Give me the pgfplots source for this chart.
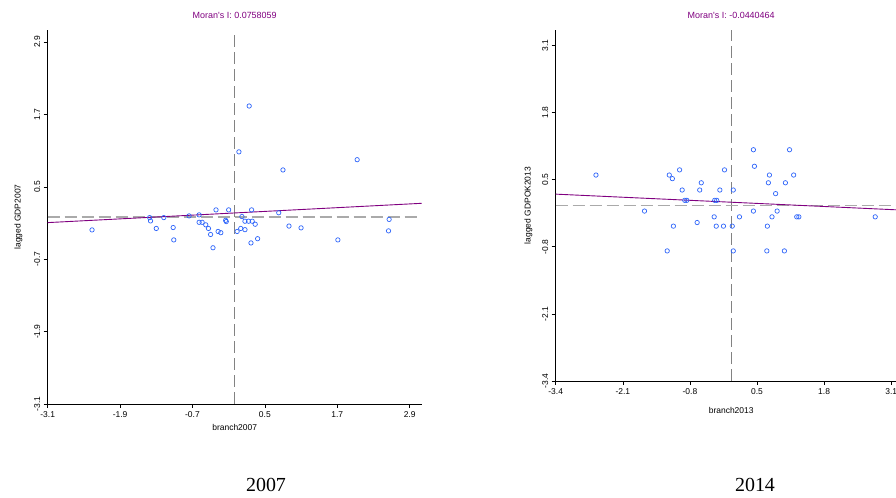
\documentclass[border=0pt]{standalone}
\usepackage{fontspec}
\setmainfont{Liberation Sans}
\newfontfamily\capfont{Liberation Serif}
\usepackage{pgfplots}
\pgfplotsset{compat=1.18}
\definecolor{moranpurple}{RGB}{128,0,128}
\definecolor{ptblue}{RGB}{45,100,250}
\definecolor{refgray}{RGB}{130,130,130}
\definecolor{refgraylight}{RGB}{170,170,170}

\pgfplotsset{moran/.style={
  scale only axis, enlargelimits=false,
  axis x line*=bottom, axis y line*=left,
  axis line style={black, line width=0.8bp},
  tick style={black, line width=0.6bp}, tick align=outside, major tick length=4bp,
  ticklabel style={font=\fontsize{8.5}{10}\selectfont},
  yticklabel style={rotate=90, anchor=south},
  label style={font=\fontsize{8.5}{10}\selectfont},
  title style={font=\fontsize{9}{10}\selectfont, text=moranpurple, yshift=2bp},
  /pgf/number format/assume math mode=true,
  pts/.style={only marks, mark=o, mark size=2.2bp, mark options={ptblue, line width=0.7bp}},
  fit/.style={moranpurple, line width=0.9bp},
  refline/.style={refgray, line width=1.1bp, dash pattern=on 12bp off 5bp},
}}

\pgfplotstableread{
x y
-2.365 -0.214
-1.41 -0.01
-1.395 -0.065
-1.30 -0.19
-1.175 -0.01
-1.02 -0.175
-1.01 -0.38
-0.756 0.018
-0.59 0.035
-0.59 -0.088
-0.54 -0.088
-0.48 -0.13
-0.435 -0.19
-0.40 -0.29
-0.36 -0.51
-0.31 0.118
-0.275 -0.24
-0.23 -0.26
-0.15 -0.055
-0.14 -0.076
-0.10 0.118
0.04 -0.24
0.07 1.08
0.24 1.84
0.12 0.007
0.17 -0.07
0.10 -0.19
0.17 -0.21
0.23 -0.07
0.28 0.118
0.29 -0.07
0.34 -0.12
0.27 -0.43
0.38 -0.36
0.73 0.07
0.80 0.78
0.90 -0.15
1.10 -0.18
1.71 -0.38
2.03 0.95
2.55 -0.23
2.56 -0.04
}\dataA

\pgfplotstableread{
x y
-2.62 0.59
-1.68 -0.108
-1.24 -0.88
-1.20 0.59
-1.14 0.52
-1.12 -0.40
-1.00 0.69
-0.95 0.30
-0.90 0.10
-0.86 0.10
-0.66 -0.33
-0.61 0.30
-0.58 0.44
-0.33 -0.22
-0.29 -0.40
-0.32 0.10
-0.28 0.10
-0.22 0.30
-0.15 -0.40
-0.13 0.69
0.04 0.30
0.02 -0.40
0.16 -0.22
0.04 -0.88
0.43 1.08
0.45 0.76
0.74 0.59
0.72 0.44
0.86 0.23
0.43 -0.108
0.89 -0.108
0.79 -0.22
0.70 -0.40
0.69 -0.88
1.03 -0.88
1.05 0.44
1.13 1.08
1.21 0.59
1.27 -0.22
1.31 -0.22
2.79 -0.22
}\dataB

\begin{document}
\begin{tikzpicture}
\path[use as bounding box] (0,0) rectangle (896bp,498bp);

\begin{axis}[moran, at={(47.7bp,94bp)}, anchor=south west,
  width=374bp, height=374bp,
  xmin=-3.1, xmax=3.1, ymin=-3.1, ymax=3.1,
  xtick={-3.1,-1.9,-0.7,0.5,1.7,2.9}, xticklabels={-3.1,-1.9,-0.7,0.5,1.7,2.9},
  ytick={-3.1,-1.9,-0.7,0.5,1.7,2.9}, yticklabels={-3.1,-1.9,-0.7,0.5,1.7,2.9},
  xlabel={branch2007}, ylabel={lagged GDP2007},
  ylabel style={yshift=5bp},
  title={Moran\textquotesingle s I: 0.0758059}]
\addplot[refline] coordinates {(0,-3.1) (0,3.1)};
\addplot[refline, refgraylight] coordinates {(-3.1,0) (3.1,0)};
\addplot[pts] table[x=x, y=y] {\dataA};
\addplot[fit] coordinates {(-3.1,-0.093) (3.1,0.227)};
\end{axis}

\begin{axis}[moran, at={(555.7bp,117bp)}, anchor=south west,
  width=351bp, height=351bp,
  xmin=-3.4, xmax=3.4, ymin=-3.4, ymax=3.4,
  xtick={-3.4,-2.1,-0.8,0.5,1.8,3.1}, xticklabels={-3.4,-2.1,-0.8,0.5,1.8,3.1},
  ytick={-3.4,-2.1,-0.8,0.5,1.8,3.1}, yticklabels={-3.4,-2.1,-0.8,0.5,1.8,3.1},
  xlabel={branch2013}, ylabel={lagged GDPOK2013},
  xlabel style={yshift=-6bp}, ylabel style={yshift=3bp},
  title={Moran\textquotesingle s I: -0.0440464}]
\addplot[refline] coordinates {(0,-3.4) (0,3.4)};
\addplot[refline, refgraylight] coordinates {(-3.4,0) (3.4,0)};
\addplot[pts] table[x=x, y=y] {\dataB};
\addplot[fit] coordinates {(-3.4,0.22) (3.4,-0.093)};
\end{axis}

\node[font=\capfont\fontsize{20}{24}\selectfont] at (266bp,13bp) {2007};
\node[font=\capfont\fontsize{20}{24}\selectfont] at (755bp,13bp) {2014};
\end{tikzpicture}
\end{document}
